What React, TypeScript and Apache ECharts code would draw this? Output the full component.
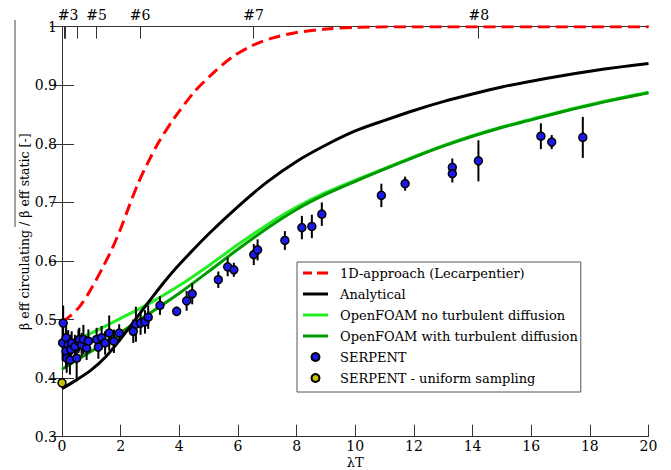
import React, { useEffect, useRef } from 'react';
import * as echarts from 'echarts';

// 1D-approach (Lecarpentier)
const redX = [0, 0.2, 0.6, 1.0, 1.4, 1.7, 2.0, 2.3, 2.6, 2.9, 3.3, 3.8, 4.5, 5.2, 5.8, 6.5, 7.2, 8, 9, 10, 12, 20];
const redY = [0.497, 0.503, 0.522, 0.553, 0.59, 0.62, 0.655, 0.695, 0.733, 0.765, 0.803, 0.842, 0.888, 0.923, 0.948, 0.968, 0.981, 0.99, 0.996, 0.999, 1.0, 1.0];

// Analytical
const blackX = [0, 0.5, 1, 1.5, 2, 2.5, 3, 3.5, 4, 5, 6, 7, 8, 9, 10, 11, 12, 13, 14, 15, 16, 17, 18, 19, 20];
const blackY = [0.382, 0.397, 0.414, 0.437, 0.467, 0.5, 0.533, 0.565, 0.594, 0.646, 0.693, 0.735, 0.77, 0.798, 0.822, 0.84, 0.857, 0.872, 0.885, 0.897, 0.907, 0.916, 0.924, 0.931, 0.937];

// OpenFOAM curves
const greenX = [0, 1, 2, 3, 4, 5, 6, 7, 8, 9, 10, 11, 12, 13, 14, 15, 16, 17, 18, 19, 20];
const lightGreenY = [0.455, 0.477, 0.502, 0.528, 0.558, 0.592, 0.628, 0.662, 0.692, 0.717, 0.738, 0.758, 0.778, 0.797, 0.814, 0.829, 0.842, 0.855, 0.867, 0.878, 0.888];
const darkGreenY = [0.415, 0.446, 0.478, 0.511, 0.545, 0.582, 0.62, 0.656, 0.688, 0.714, 0.736, 0.757, 0.777, 0.796, 0.813, 0.828, 0.841, 0.854, 0.866, 0.877, 0.887];

// SERPENT
const serpentX = [0.04, 0.02, 0.14, 0.21, 0.14, 0.16, 0.27, 0.3, 0.33, 0.44, 0.5, 0.56, 0.59, 0.67, 0.73, 0.84, 0.9, 1.18, 1.24, 1.35, 1.47, 1.61, 1.77, 1.95, 2.43, 2.52, 2.68, 2.83, 2.94, 3.34, 3.91, 4.25, 4.44, 5.33, 5.65, 5.86, 6.54, 6.67, 7.6, 8.18, 8.52, 8.86, 10.89, 11.7, 13.31, 13.31, 14.2, 16.33, 16.7, 17.76];
const serpentY = [0.494, 0.46, 0.469, 0.457, 0.446, 0.434, 0.431, 0.449, 0.46, 0.454, 0.434, 0.463, 0.466, 0.457, 0.466, 0.451, 0.463, 0.466, 0.453, 0.469, 0.46, 0.477, 0.463, 0.477, 0.48, 0.492, 0.494, 0.496, 0.504, 0.524, 0.514, 0.532, 0.544, 0.568, 0.59, 0.585, 0.611, 0.619, 0.635, 0.657, 0.659, 0.68, 0.712, 0.732, 0.76, 0.749, 0.771, 0.813, 0.803, 0.811];
const serpentErr = [0.03, 0.03, 0.025, 0.025, 0.03, 0.025, 0.025, 0.025, 0.02, 0.02, 0.035, 0.02, 0.02, 0.02, 0.025, 0.02, 0.02, 0.02, 0.02, 0.02, 0.02, 0.03, 0.02, 0.015, 0.02, 0.03, 0.02, 0.02, 0.02, 0.016, 0.008, 0.017, 0.018, 0.014, 0.016, 0.012, 0.018, 0.018, 0.016, 0.02, 0.02, 0.02, 0.02, 0.012, 0.015, 0.015, 0.035, 0.022, 0.012, 0.035];

// SERPENT - uniform sampling
const uniformX = [0];
const uniformY = [0.392];

// Axis ticks/labels
const topTickValues = [0.024, 0.068, 0.11, 0.52, 1.18, 2.66, 6.53, 14.21];
const topLabelValues = [0.21, 1.18, 2.66, 6.53, 14.21];
const topLabels = ['#3', '#5', '#6', '#7', '#8'];

const names = [
  '1D-approach (Lecarpentier)',
  'Analytical',
  'OpenFOAM no turbulent diffusion',
  'OpenFOAM with turbulent diffusion',
  'SERPENT',
  'SERPENT - uniform sampling',
];

const solidIcon = 'path://M0,0 H25 V3 H0 Z';
const dashIcon = 'path://M0,0 H9 V3 H0 Z M14,0 H25 V3 H14 Z';

const zip = (xs: number[], ys: number[]) => xs.map((x, i) => [x, ys[i]]);

export default function App() {
  const ref = useRef<HTMLDivElement>(null);
  useEffect(() => {
    document.body.style.margin = '0';
    const chart = echarts.init(ref.current as HTMLDivElement, null, { renderer: 'svg' });
    const font = 'DejaVu Serif';
    const axisLine = { show: true, lineStyle: { color: '#333', width: 1 } };
    const tick = { show: true, inside: true, length: 12, lineStyle: { color: '#333', width: 1 } };
    const option: any = {
      animation: false,
      backgroundColor: '#fff',
      textStyle: { fontFamily: font },
      grid: { left: 62, right: 22.5, top: 26.7, bottom: 33.3, containLabel: false, outerBoundsMode: 'none' },
      xAxis: [
        {
          type: 'value', min: 0, max: 20, interval: 2, position: 'bottom',
          axisLine, axisTick: tick, splitLine: { show: false },
          axisLabel: { color: '#000', fontFamily: font, fontSize: 14, margin: 2 },
          name: 'λT', nameLocation: 'middle', nameGap: 19, nameMoveOverlap: false,
          nameTextStyle: { color: '#000', fontFamily: font, fontSize: 13 },
        },
        {
          type: 'value', min: 0, max: 20, position: 'top',
          axisLine, splitLine: { show: false },
          axisTick: { ...tick, customValues: topTickValues },
          axisLabel: {
            show: true, color: '#000', fontFamily: font, fontSize: 14, margin: 5,
            customValues: topLabelValues,
            formatter: (v: number) => {
              const i = topLabelValues.findIndex((t) => Math.abs(t - v) < 1e-6);
              return i >= 0 ? topLabels[i] : '';
            },
          },
        },
      ],
      yAxis: [
        {
          type: 'value', min: 0.3, max: 1, interval: 0.1, position: 'left',
          axisLine, axisTick: tick, splitLine: { show: false },
          axisLabel: {
            color: '#000', fontFamily: font, fontSize: 14, margin: 5,
            formatter: (v: number) => String(Math.round(v * 10) / 10),
          },
          name: 'β eff circulating / β eff static [-]', nameLocation: 'middle', nameGap: 31, nameMoveOverlap: false,
          nameTextStyle: { color: '#000', fontFamily: font, fontSize: 12.5 },
        },
        {
          type: 'value', min: 0.3, max: 1, interval: 0.1, position: 'right',
          axisLine, axisTick: tick, splitLine: { show: false },
          axisLabel: { show: false },
        },
      ],
      legend: {
        data: [
          { name: names[0], icon: dashIcon },
          { name: names[1], icon: solidIcon },
          { name: names[2], icon: solidIcon },
          { name: names[3], icon: solidIcon },
          { name: names[4] },
          { name: names[5] },
        ],
        orient: 'vertical',
        left: 297, top: 262,
        itemWidth: 25, itemHeight: 8, itemGap: 5,
        padding: [3, 3, 6, 6],
        borderColor: '#555', borderWidth: 1, backgroundColor: '#fff',
        textStyle: { color: '#000', fontFamily: font, fontSize: 13, lineHeight: 16, padding: [0, 0, 0, 7] },
      },
      series: [
        {
          name: names[0], type: 'line', data: zip(redX, redY), smooth: 0.3, symbol: 'none',
          lineStyle: { color: '#ff0000', width: 3, type: [12, 6] }, itemStyle: { color: '#ff0000' }, z: 3,
        },
        {
          name: names[2], type: 'line', data: zip(greenX, lightGreenY), smooth: 0.3, symbol: 'none',
          lineStyle: { color: '#22ee22', width: 3 }, itemStyle: { color: '#22ee22' }, z: 3,
        },
        {
          name: names[3], type: 'line', data: zip(greenX, darkGreenY), smooth: 0.3, symbol: 'none',
          lineStyle: { color: '#009a00', width: 3 }, itemStyle: { color: '#009a00' }, z: 3,
        },
        {
          name: names[1], type: 'line', data: zip(blackX, blackY), smooth: 0.3, symbol: 'none',
          lineStyle: { color: '#000', width: 3 }, itemStyle: { color: '#000' }, z: 3,
        },
        {
          name: 'errors', type: 'custom', z: 4,
          data: serpentX.map((x, i) => [x, serpentY[i], serpentErr[i]]),
          encode: { x: 0, y: 1 },
          renderItem: (params: any, api: any) => {
            const x = api.value(0), y = api.value(1), e = api.value(2);
            const p1 = api.coord([x, y - e]);
            const p2 = api.coord([x, y + e]);
            return {
              type: 'line',
              shape: { x1: p1[0], y1: p1[1], x2: p2[0], y2: p2[1] },
              style: { stroke: '#000', lineWidth: 2 },
            };
          },
        },
        {
          name: names[4], type: 'scatter', data: zip(serpentX, serpentY), symbol: 'circle', symbolSize: 8, z: 5,
          itemStyle: { color: '#1a1aee', borderColor: '#000', borderWidth: 1.5, opacity: 1 },
        },
        {
          name: names[5], type: 'scatter', data: zip(uniformX, uniformY), symbol: 'circle', symbolSize: 8, z: 5,
          itemStyle: { color: '#c8c000', borderColor: '#000', borderWidth: 1.5, opacity: 1 },
        },
      ],
      graphic: [
        { type: 'line', shape: { x1: 15, y1: 20, x2: 15, y2: 227 }, style: { stroke: '#444', lineWidth: 1 } },
      ],
    };
    chart.setOption(option);
    return () => chart.dispose();
  }, []);
  return <div ref={ref} style={{ width: 671, height: 470 }} />;
}
